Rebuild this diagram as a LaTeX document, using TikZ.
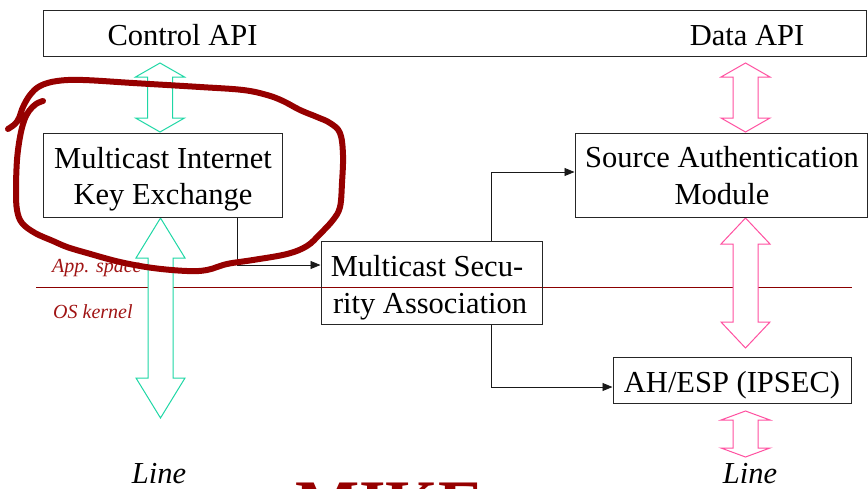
\documentclass[tikz,border=0pt]{standalone}
\usepackage{fontspec}
\setmainfont{Liberation Serif}
\usetikzlibrary{arrows.meta}

\definecolor{ringred}{RGB}{150,0,0}
\definecolor{labelred}{RGB}{160,20,20}
\definecolor{splitred}{RGB}{139,0,0}
\definecolor{ctlgreen}{RGB}{30,215,165}
\definecolor{datapink}{RGB}{255,80,160}

% hollow two-headed arrow: x, top y, bottom y, head length, colour
\newcommand\fatarrow[5]{%
  \draw[line width=1pt, draw=#5, fill=white]
    (#1,#2) -- ({#1+24.5},{#2+#4}) -- ({#1+12.5},{#2+#4})
    -- ({#1+12.5},{#3-#4}) -- ({#1+24.5},{#3-#4}) -- (#1,#3)
    -- ({#1-24.5},{#3-#4}) -- ({#1-12.5},{#3-#4})
    -- ({#1-12.5},{#2+#4}) -- ({#1-24.5},{#2+#4}) -- cycle;}

\tikzset{
  box/.style={draw=black!85, line width=1pt, rectangle, inner sep=0pt},
  txt/.style={anchor=base, inner sep=0pt, font=\fontsize{30.5}{36}\selectfont},
  note/.style={anchor=base west, inner sep=0pt, text=labelred,
    font=\itshape\fontsize{20}{24}\selectfont},
  linelabel/.style={anchor=base, inner sep=0pt, font=\itshape\fontsize{30.5}{36}\selectfont},
  conn/.style={line width=0.8pt, draw=black!90, -{Triangle[length=10pt,width=8pt]}},
}

\begin{document}
\begin{tikzpicture}[x=1pt,y=-1pt]
\useasboundingbox (0,0) rectangle (868,488);

% user space / kernel split
\draw[splitred, line width=1pt] (36,287) -- (852,287);

% hollow transfer arrows
\fatarrow{160}{63}{132}{14}{ctlgreen}
\fatarrow{160.5}{218}{418}{40}{ctlgreen}
\fatarrow{745.5}{63}{132}{14}{datapink}
\fatarrow{745.5}{218}{348}{26}{datapink}
\fatarrow{745.5}{411}{457}{9}{datapink}

% boxes
\node[box, minimum width=823pt, minimum height=46pt] (api) at (454.5,33) {};
\node[box, minimum width=239pt, minimum height=84pt] (mike) at (162.5,175) {};
\node[box, minimum width=292pt, minimum height=84pt] (sam) at (721,175) {};
\node[box, minimum width=221pt, minimum height=83pt] (msa) at (431.5,282.5) {};
\node[box, minimum width=238pt, minimum height=46pt] (ah) at (732,380) {};

% box texts
\node[txt] (ctl) at (182.5,45) {Control API};
\node[txt] (dat) at (747,45) {Data API};
\node[txt] (mikeA) at (163,168) {Multicast Internet};
\node[txt] (mikeB) at (163,204) {Key Exchange};
\node[txt] (samA) at (722,167) {Source Authentication};
\node[txt] (samB) at (722,204) {Module};
\node[txt] (msaA) at (427,276) {Multicast Secu-};
\node[txt] (msaB) at (430,313) {rity Association};
\node[txt] (ahT) at (732,392) {AH/ESP (IPSEC)};

% side notes
\node[note] (app) at (52,272) {App. space};
\node[note] (os) at (53,318) {OS kernel};
\node[linelabel] (lineL) at (159,483) {Line};
\node[linelabel] (lineR) at (750,483) {Line};

% connectors
\coordinate (k1) at (237,265);
\coordinate (s1) at (491,172);
\coordinate (s2) at (491,387);
\draw[conn] (mike.south -| k1) |- (msa.west |- k1);
\draw[conn] (msa.north -| s1) |- (sam.west |- s1);
\draw[conn] (msa.south -| s2) |- (ah.west |- s2);

% big title, running off the bottom edge
\node[anchor=base west, inner sep=0pt, text=ringred,
  font=\bfseries\fontsize{68}{70}\selectfont] (title) at (295,527) {MIKE};

% hand-drawn ring
\draw[ringred, line width=6pt, line cap=round, line join=round]
  plot[smooth, tension=0.6] coordinates {
   (43,101) (36,104) (29,111) (24,121) (20,137) (17,160) (16,190) (17,210)
   (22,223) (35,233) (53,241) (67,247) (87,253) (120,262) (153,268) (187,271)
   (207,270) (227,264) (253,260) (287,254) (307,246) (320,234) (333,220)
   (340,207) (342,183) (343,155) (340,133) (330,123) (317,117) (300,110)
   (283,101) (267,95) (243,90) (200,87) (133,83) (83,80) (57,81) (40,86)
   (30,95) (23,107) (19,118) (15,124) (8,129)};
\end{tikzpicture}
\end{document}
